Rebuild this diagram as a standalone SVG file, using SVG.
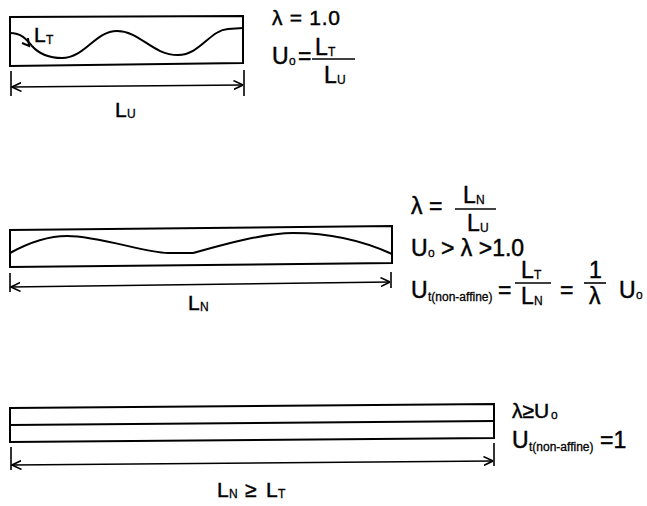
<svg xmlns="http://www.w3.org/2000/svg" width="647" height="506" viewBox="0 0 647 506">
<defs>
<style>
.box{fill:none;stroke:#000;stroke-width:2;stroke-linejoin:miter}
.wave{fill:none;stroke:#000;stroke-width:2}
.dim{fill:none;stroke:#000;stroke-width:1.6}
.t{font-family:"Liberation Sans",Arial,Helvetica,sans-serif;fill:#000;stroke:#000;stroke-width:0.45}
.m{font-size:23px}
.ml{font-size:21px}
.s{font-size:12px;stroke-width:0.3}
</style>
<marker id="ah" viewBox="0 0 10 10" refX="9.5" refY="5" markerWidth="10" markerHeight="10" markerUnits="userSpaceOnUse" orient="auto-start-reverse">
<path d="M0,0.5 L9.5,5 L0,9.5" fill="none" stroke="#000" stroke-width="1.6"/>
</marker>
</defs>
<rect width="647" height="506" fill="#fff"/>

<g id="panel-unstretched">
<polygon class="box" points="10,17 243,16 243,63 10,66"/>
<path class="wave" d="M10,33 C22,33 27,40 32,46 C40,55 50,58 62,58 C85,58 95,31 117,31 C140,31 152,55 178,55 C200,55 210,30 228,29 L243,28"/>
<path class="wave" d="M22,43 L29,46 L28,38" stroke-width="1.8"/>
<text class="t ml" x="34" y="42">L</text><text class="t s" x="46" y="44">T</text>
<text class="t ml" x="272" y="25" textLength="68" lengthAdjust="spacing">λ = 1.0</text>
<text class="t m" x="272" y="64">U</text><text class="t s" x="289" y="65">o</text>
<text class="t m" x="298" y="64">=</text>
<line class="dim" x1="312" y1="59" x2="355" y2="59"/>
<text class="t m" x="315" y="55">L</text><text class="t s" x="328" y="56">T</text>
<text class="t m" x="324" y="83">L</text><text class="t s" x="337" y="84">U</text>
</g>

<g id="panel-partial">
<polygon class="box" points="10,230 392,226 392,263 10,267"/>
<path class="wave" d="M10,253 C30,242 48,236 67,236 C100,236 145,253 168,253 L193,253 C215,247 262,233 293,233 C335,233 368,243 392,254"/>
<text class="t m" x="411" y="214">λ =</text>
<line class="dim" x1="455" y1="209" x2="496" y2="209"/>
<text class="t m" x="463" y="203">L</text><text class="t s" x="476" y="204">N</text>
<text class="t m" x="467" y="231">L</text><text class="t s" x="480" y="232">U</text>
<text class="t m" x="411" y="256">U</text><text class="t s" x="428" y="257">o</text>
<text class="t m" x="441" y="256">&gt; λ &gt;1.0</text>
<text class="t m" x="411" y="298">U</text><text class="t s" x="428" y="301">t(non-affine)</text>
<text class="t m" x="498" y="298">=</text>
<line class="dim" x1="515" y1="283" x2="551" y2="283"/>
<text class="t m" x="521" y="278">L</text><text class="t s" x="534" y="279">T</text>
<text class="t m" x="521" y="304">L</text><text class="t s" x="534" y="305">N</text>
<text class="t m" x="560" y="298">=</text>
<line class="dim" x1="584" y1="283" x2="606" y2="283"/>
<text class="t m" x="589" y="278">1</text>
<text class="t m" x="589" y="304">λ</text>
<text class="t m" x="619" y="298">U</text><text class="t s" x="636" y="299">o</text>
<text class="t ml" x="188" y="310">L</text><text class="t s" x="200" y="311">N</text>
</g>

<g id="panel-straight">
<polygon class="box" points="10,408 494,404 494,438 10,442"/>
<line class="box" x1="10" y1="425" x2="494" y2="421"/>
<text class="t ml" x="512" y="418">λ≥U</text><text class="t s" x="551" y="419">o</text>
<text class="t m" x="512" y="448">U</text><text class="t s" x="529" y="451">t(non-affine)</text>
<text class="t m" x="600" y="448">=1</text>
<text class="t ml" x="217" y="497">L</text><text class="t s" x="229" y="498">N</text>
<text class="t ml" x="245" y="497">≥</text>
<text class="t ml" x="266" y="497">L</text><text class="t s" x="278" y="498">T</text>
</g>

<g id="connectors">
<line class="dim" x1="11" y1="71" x2="11" y2="96"/>
<line class="dim" x1="244" y1="70" x2="244" y2="96"/>
<line class="dim" x1="12" y1="87" x2="243" y2="85" marker-start="url(#ah)" marker-end="url(#ah)"/>
<text class="t ml" x="115" y="117">L</text><text class="t s" x="127" y="118">U</text>
<line class="dim" x1="10" y1="273" x2="10" y2="292"/>
<line class="dim" x1="391" y1="272" x2="391" y2="288"/>
<line class="dim" x1="11" y1="287" x2="390" y2="282" marker-start="url(#ah)" marker-end="url(#ah)"/>
<line class="dim" x1="11" y1="447" x2="11" y2="470"/>
<line class="dim" x1="494" y1="443" x2="494" y2="466"/>
<line class="dim" x1="12" y1="465" x2="493" y2="461" marker-start="url(#ah)" marker-end="url(#ah)"/>
</g>
</svg>
